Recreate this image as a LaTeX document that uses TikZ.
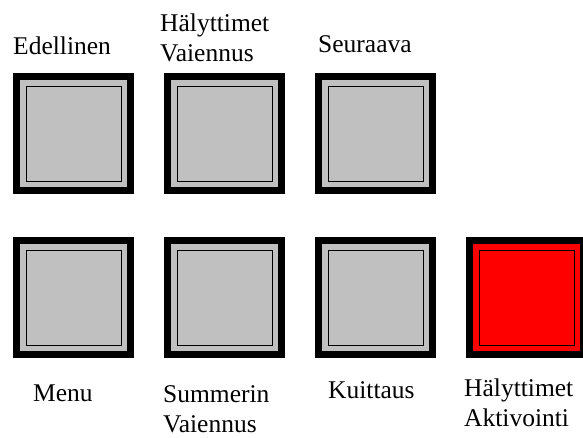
\documentclass[tikz,border=0pt]{standalone}
\usepackage{fontspec}
\setmainfont{Liberation Serif}
\usetikzlibrary{positioning}
\definecolor{keygray}{HTML}{C0C0C0}
\definecolor{keyred}{HTML}{FF0000}
\tikzset{
	x=1pt, y=-1pt,
	node distance=151pt,
	key/.style={draw=black, line width=7pt, fill=keygray, minimum size=114pt, inner sep=0pt,
		path picture={\draw[line width=0.9pt] ([shift={(9.5pt,9.5pt)}]path picture bounding box.south west) rectangle ([shift={(-9.5pt,-9.5pt)}]path picture bounding box.north east);}},
	alarm/.style={key, fill=keyred},
	caption/.style={anchor=base west, inner sep=0pt, align=left, font=\fontsize{25.5}{30}\selectfont}}

\begin{document}
\begin{tikzpicture}
		\useasboundingbox (0,0) rectangle (583,438);
		
		\node[key] (prev) at (73.5,134) {};
		\node[key, right of=prev] (mute) {};
		\node[key, right of=mute] (next) {};
		\node[key, below of=prev, node distance=163.5pt] (menu) {};
		\node[key, right of=menu] (buzzer) {};
		\node[key, right of=buzzer] (ack) {};
		\node[alarm, right of=ack] (arm) {};
		
		% multi-line captions sit on their last line
		\node[caption] (prevlbl) at (13,55) {Edellinen};
		\node[caption] (mutelbl) at (160,62) {Hälyttimet\\Vaiennus};
		\node[caption] (nextlbl) at (318,53) {Seuraava};
		\node[caption] (menulbl) at (33,401) {Menu};
		\node[caption] (buzzerlbl) at (163,432) {Summerin\\Vaiennus};
		\node[caption] (acklbl) at (328,398) {Kuittaus};
		\node[caption] (armlbl) at (464,426) {Hälyttimet\\Aktivointi};
	\end{tikzpicture}
\end{document}
